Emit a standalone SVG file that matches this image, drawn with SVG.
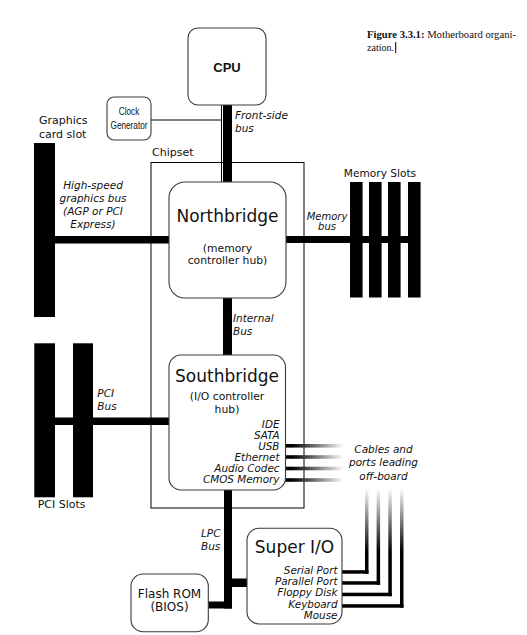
<svg xmlns="http://www.w3.org/2000/svg" width="527" height="635" viewBox="0 0 527 635">
<style>
.box{fill:#fff;stroke:#3a3a3a;stroke-width:1.1}
.t{font-family:"DejaVu Sans",sans-serif;fill:#111}
.i{font-family:"DejaVu Sans",sans-serif;font-style:italic;fill:#111}
.bar{fill:#000}
.slot{fill:#000}
.thin{stroke:#000;stroke-width:1;fill:none}
.cap{font-family:"Liberation Serif",serif;font-size:10px;fill:#111}
</style>
<defs>
<linearGradient id="gh" gradientUnits="userSpaceOnUse" x1="292" y1="0" x2="344" y2="0">
<stop offset="0" stop-color="#000"/><stop offset="1" stop-color="#fff"/>
</linearGradient>
<linearGradient id="gv" gradientUnits="userSpaceOnUse" x1="0" y1="488" x2="0" y2="552">
<stop offset="0" stop-color="#fff"/><stop offset="1" stop-color="#000"/>
</linearGradient>
</defs>
<rect width="527" height="635" fill="#fff"/>

<g id="caption">
<text class="cap" x="367" y="37.5" textLength="149" lengthAdjust="spacingAndGlyphs"><tspan font-weight="bold">Figure 3.3.1:</tspan> Motherboard organi-</text>
<text class="cap" x="367" y="50.5">zation.</text>
<line x1="395.7" y1="42" x2="395.7" y2="53" stroke="#000" stroke-width="1"/>
</g>

<g id="chipset">
<rect x="151" y="162.5" width="153" height="345.5" fill="none" stroke="#000" stroke-width="1"/>
<text class="t" x="152" y="155.5" font-size="11">Chipset</text>
</g>

<g id="connectors">
<rect class="bar" x="223" y="105" width="9" height="77"/>
<line class="thin" x1="221.5" y1="105" x2="221.5" y2="182"/>
<line class="thin" x1="151" y1="120" x2="221.5" y2="120"/>
<rect class="bar" x="55" y="236" width="114" height="7.5"/>
<rect class="bar" x="286" y="236" width="134" height="7"/>
<rect class="bar" x="223" y="298" width="9" height="57"/>
<rect class="bar" x="55" y="417.5" width="114" height="7.5"/>
<rect class="bar" x="224" y="490" width="8" height="118.5"/>
<rect class="bar" x="208" y="601.5" width="24" height="7"/>
<rect class="bar" x="232" y="578.5" width="15" height="8.5"/>
<g id="cables">
<rect x="285" y="444" width="59" height="3.6" fill="url(#gh)"/>
<rect x="285" y="455.2" width="59" height="3.6" fill="url(#gh)"/>
<rect x="285" y="466.7" width="59" height="3.6" fill="url(#gh)"/>
<rect x="285" y="478.2" width="59" height="3.6" fill="url(#gh)"/>
<rect x="365" y="488" width="3.5" height="85.7" fill="url(#gv)"/>
<rect x="376.6" y="488" width="3.5" height="96.7" fill="url(#gv)"/>
<rect x="388.3" y="488" width="3.5" height="108.2" fill="url(#gv)"/>
<rect x="400" y="488" width="3.5" height="119.7" fill="url(#gv)"/>
<rect class="bar" x="342" y="570.2" width="26.5" height="3.5"/>
<rect class="bar" x="342" y="581.2" width="38.1" height="3.5"/>
<rect class="bar" x="342" y="592.7" width="49.8" height="3.5"/>
<rect class="bar" x="342" y="604.2" width="61.5" height="3.5"/>
</g>
</g>

<g id="bus-labels">
<text class="i" font-size="10.5" x="235" y="119">Front-side</text>
<text class="i" font-size="10.5" x="235" y="132">bus</text>
<g text-anchor="middle">
<text class="i" font-size="10.5" x="93" y="188.5">High-speed</text>
<text class="i" font-size="10.5" x="93" y="201.8">graphics bus</text>
<text class="i" font-size="10.5" x="93" y="215.1">(AGP or PCI</text>
<text class="i" font-size="10.5" x="93" y="228.4">Express)</text>
<text class="i" font-size="10" x="327" y="219.5">Memory</text>
<text class="i" font-size="10" x="327" y="229.5">bus</text>
<text class="i" font-size="10.5" x="383.5" y="452.7">Cables and</text>
<text class="i" font-size="10.5" x="383.5" y="466.2">ports leading</text>
<text class="i" font-size="10.5" x="383.5" y="479.7">off-board</text>
</g>
<text class="i" font-size="10.5" x="233" y="322">Internal</text>
<text class="i" font-size="10.5" x="233" y="334.5">Bus</text>
<text class="i" font-size="10.5" x="97.3" y="397">PCI</text>
<text class="i" font-size="10.5" x="97.3" y="410.3">Bus</text>
<text class="i" font-size="10.5" x="201" y="537">LPC</text>
<text class="i" font-size="10.5" x="201" y="549.5">Bus</text>
</g>

<g id="cpu">
<rect class="box" x="188" y="28" width="78" height="77" rx="10"/>
<text x="227" y="71.5" font-family="Liberation Sans, sans-serif" font-weight="bold" font-size="13" text-anchor="middle" fill="#111">CPU</text>
</g>

<g id="clock-generator">
<rect class="box" x="107" y="97" width="44" height="43" rx="7"/>
<text x="129" y="115" font-family="Liberation Sans, sans-serif" font-size="10" text-anchor="middle" textLength="20.5" lengthAdjust="spacingAndGlyphs" fill="#111">Clock</text>
<text x="129" y="129" font-family="Liberation Sans, sans-serif" font-size="10" text-anchor="middle" textLength="37" lengthAdjust="spacingAndGlyphs" fill="#111">Generator</text>
</g>

<g id="graphics-slot">
<rect class="slot" x="34" y="143" width="21" height="174"/>
<text class="t" font-size="11" x="39" y="124">Graphics</text>
<text class="t" font-size="11" x="39" y="138.3">card slot</text>
</g>

<g id="northbridge">
<rect class="box" x="169" y="182" width="117" height="116" rx="16"/>
<text class="t" font-size="17" x="227.5" y="221.5" text-anchor="middle">Northbridge</text>
<text class="t" font-size="10.8" x="227.5" y="252.3" text-anchor="middle">(memory</text>
<text class="t" font-size="10.8" x="227.5" y="264.3" text-anchor="middle">controller hub)</text>
</g>

<g id="memory-slots">
<rect class="slot" x="350" y="182" width="12.6" height="115.5"/>
<rect class="slot" x="369" y="182" width="12.6" height="115.5"/>
<rect class="slot" x="388" y="182" width="12.6" height="115.5"/>
<rect class="slot" x="408" y="182" width="12.6" height="115.5"/>
<text class="t" font-size="10.6" x="380" y="177" text-anchor="middle">Memory Slots</text>
</g>

<g id="pci-slots">
<rect class="slot" x="34.3" y="343.3" width="20.7" height="154"/>
<rect class="slot" x="73" y="343.3" width="20" height="154"/>
<text class="t" font-size="11" x="37.7" y="508.3">PCI Slots</text>
</g>

<g id="southbridge">
<rect class="box" x="169" y="355" width="116.5" height="135" rx="12"/>
<text class="t" font-size="17" x="227" y="381.5" text-anchor="middle">Southbridge</text>
<text class="t" font-size="10.8" x="227" y="400" text-anchor="middle">(I/O controller</text>
<text class="t" font-size="10.8" x="227" y="413.3" text-anchor="middle">hub)</text>
<g text-anchor="end">
<text class="i" font-size="10.4" x="279.5" y="428.3">IDE</text>
<text class="i" font-size="10.4" x="279.5" y="439.3">SATA</text>
<text class="i" font-size="10.4" x="279.5" y="450.1">USB</text>
<text class="i" font-size="10.4" x="279.5" y="460.9">Ethernet</text>
<text class="i" font-size="10.4" x="279.5" y="471.8">Audio Codec</text>
<text class="i" font-size="10.4" x="279.5" y="482.7">CMOS Memory</text>
</g>
</g>

<g id="super-io">
<rect class="box" x="247" y="528.3" width="95" height="95.7" rx="12"/>
<text class="t" font-size="17" x="294.5" y="552.5" text-anchor="middle">Super I/O</text>
<g text-anchor="end">
<text class="i" font-size="10.4" x="337.5" y="574">Serial Port</text>
<text class="i" font-size="10.4" x="337.5" y="585.2">Parallel Port</text>
<text class="i" font-size="10.4" x="337.5" y="596.4">Floppy Disk</text>
<text class="i" font-size="10.4" x="337.5" y="607.7">Keyboard</text>
<text class="i" font-size="10.4" x="337.5" y="619">Mouse</text>
</g>
</g>

<g id="flash-rom">
<rect class="box" x="131" y="574" width="77.3" height="57.7" rx="12"/>
<text class="t" font-size="12" x="169.5" y="598.3" text-anchor="middle">Flash ROM</text>
<text class="t" font-size="12" x="169.5" y="611" text-anchor="middle">(BIOS)</text>
</g>
</svg>
